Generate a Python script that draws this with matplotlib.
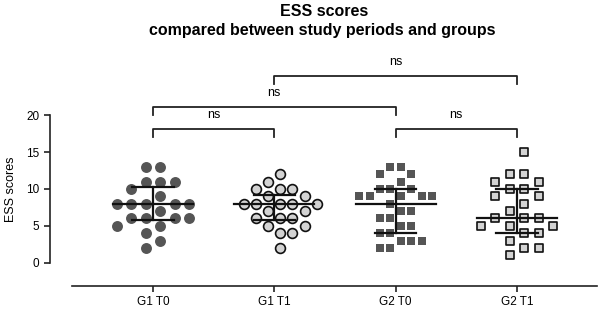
import numpy as np
import matplotlib.pyplot as plt

plt.rcParams['font.family'] = ['Liberation Sans', 'DejaVu Sans']

# ---- data ----
groups = ["G1 T0", "G1 T1", "G2 T0", "G2 T1"]
g1_t0 = [13, 13, 11, 11, 11, 10, 9, 8, 8, 8, 8, 8, 7, 6, 6, 6, 6, 5, 5, 4, 3, 2]
g1_t1 = [12, 11, 10, 10, 10, 9, 9, 8, 8, 8, 8, 8, 7, 7, 6, 6, 6, 5, 5, 4, 4, 2]
g2_t0 = [13, 13, 12, 12, 11, 10, 10, 10, 9, 9, 9, 9, 9, 8, 7, 7, 6, 6, 5, 5,
         4, 4, 3, 3, 3, 2, 2]
g2_t1 = [15, 12, 12, 11, 11, 10, 10, 9, 9, 8, 7, 6, 6, 6, 5, 5, 5, 4, 4, 3,
         2, 2, 1]
series = [g1_t0, g1_t1, g2_t0, g2_t1]

# comparisons: (group a, group b, label)
comparisons = [(0, 1, "ns"), (2, 3, "ns"), (0, 2, "ns"), (1, 3, "ns")]

# ---- styles ----
markers = ["o", "o", "s", "s"]
faces = ["#555555", "#d3d3d3", "#555555", "#d3d3d3"]
edges = ["#555555", "#111111", "#555555", "#111111"]
edge_w = [0, 1.2, 0, 1.2]
sizes = [62, 50, 34, 40]
col_step = [0.12, 0.10, 0.086, 0.119]


def swarm(vals, step):
    # Prism-like row layout: points of equal value share a row, and a slot
    # is skipped if the same slot is taken in the row just above/below
    slots = {}
    xs = np.zeros(len(vals))
    cand = []
    for k in range(12):
        cand += [k + 0.5, -(k + 0.5)]
    order = np.argsort(-np.array(vals), kind="stable")
    for i in order:
        v = vals[i]
        taken = set(slots.get(v, []))
        near = set(slots.get(v - 1, [])) | set(slots.get(v + 1, []))
        pick = cand[0]
        for c in cand:
            if c not in taken and c not in near:
                pick = c
                break
        slots.setdefault(v, []).append(pick)
        xs[i] = pick * step
    return xs


fig = plt.figure(figsize=(6.02, 3.11), dpi=100)
ax = fig.add_axes([50 / 602, 25 / 311, 550 / 602, 226 / 311])

for i, vals in enumerate(series):
    xs = i + swarm(vals, col_step[i])
    ax.scatter(xs, vals, s=sizes[i], marker=markers[i], facecolor=faces[i],
               edgecolor=edges[i], linewidths=edge_w[i], zorder=2)
    q1, med, q3 = np.percentile(vals, [25, 50, 75], method="weibull")
    ax.plot([i - 0.33, i + 0.33], [med, med], color="#111111", lw=1.6, zorder=3)
    ax.plot([i - 0.17, i + 0.17], [q1, q1], color="#111111", lw=1.6, zorder=3)
    ax.plot([i - 0.17, i + 0.17], [q3, q3], color="#111111", lw=1.6, zorder=3)
    ax.plot([i, i], [q1, q3], color="#111111", lw=1.6, zorder=3)

# significance brackets
bracket_y = [18.1, 18.1, 21.1, 25.3]
for (a, b, lab), yb in zip(comparisons, bracket_y):
    ax.plot([a, a, b, b], [yb - 1.0, yb, yb, yb - 1.0], color="#222222",
            lw=1.3, clip_on=False)
    ax.text((a + b) / 2, yb + 1.9, lab, ha="center", va="center",
            fontsize=9, clip_on=False)

ax.set_xlim(-0.849, 3.685)
ax.set_ylim(-3.16, 27.5)
ax.set_yticks([0, 5, 10, 15, 20])
ax.set_xticks(range(len(groups)))
ax.set_xticklabels(groups)
ax.tick_params(labelsize=8.5, length=4, width=1.2, color="#222222")

for s in ["top", "right"]:
    ax.spines[s].set_visible(False)
ax.spines["left"].set_bounds(0, 20)
ax.spines["bottom"].set_bounds(-0.668, 3.66)
for s in ["left", "bottom"]:
    ax.spines[s].set_linewidth(1.2)
    ax.spines[s].set_color("#222222")

ax.set_ylabel("ESS scores", fontsize=9)
ax.yaxis.set_label_coords(-0.06, 0.43)

fig.text(324 / 602, 1 - 11 / 311, "ESS scores", ha="center", va="center",
         fontsize=11.5, fontweight="bold")
fig.text(322 / 602, 1 - 30 / 311, "compared between study periods and groups",
         ha="center", va="center", fontsize=11.5, fontweight="bold")

fig.savefig("out.png", dpi=100)
